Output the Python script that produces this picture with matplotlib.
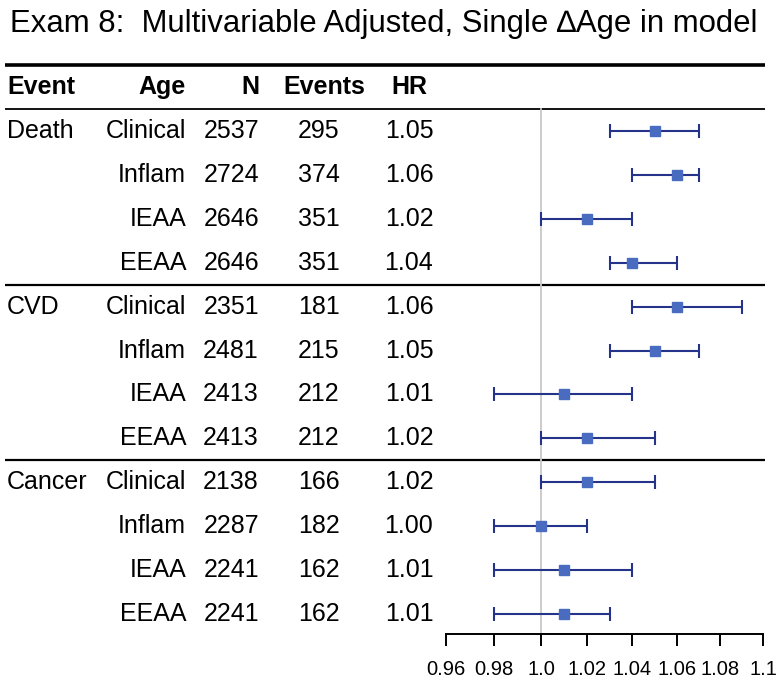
import matplotlib
matplotlib.use("Agg")
import matplotlib.pyplot as plt
from matplotlib.ticker import FixedLocator, FixedFormatter, NullLocator

plt.rcParams['font.family'] = ['Liberation Sans', 'DejaVu Sans']

# ---- data ----
events = ["Death", "", "", "", "CVD", "", "", "", "Cancer", "", "", ""]
ages = ["Clinical", "Inflam", "IEAA", "EEAA"] * 3
n_vals = [2537, 2724, 2646, 2646, 2351, 2481, 2413, 2413, 2138, 2287, 2241, 2241]
n_events = [295, 374, 351, 351, 181, 215, 212, 212, 166, 182, 162, 162]
hr = [1.05, 1.06, 1.02, 1.04, 1.06, 1.05, 1.01, 1.02, 1.02, 1.00, 1.01, 1.01]
lo = [1.03, 1.04, 1.00, 1.03, 1.04, 1.03, 0.98, 1.00, 1.00, 0.98, 0.98, 0.98]
hi = [1.07, 1.07, 1.04, 1.06, 1.09, 1.07, 1.04, 1.05, 1.05, 1.02, 1.04, 1.03]
headers = ["Event", "Age", "N", "Events", "HR"]
xticks = [0.96, 0.98, 1.0, 1.02, 1.04, 1.06, 1.08, 1.10]
xticklabels = ["0.96", "0.98", "1.0", "1.02", "1.04", "1.06", "1.08", "1.1"]
title = "Exam 8:  Multivariable Adjusted, Single \u2206Age in model"

W, H = 776, 687
fig = plt.figure(figsize=(W / 100, H / 100), dpi=100)

# row r sits at pixel 131 + 43.9*r from top
y_top = -131 / 43.9
y_bot = (H - 131) / 43.9

bg = fig.add_axes([0, 0, 1, 1])
bg.set_xlim(0, W)
bg.set_ylim(y_bot, y_top)
bg.axis("off")

x0, x1 = 445.7, 763.3
ax = fig.add_axes([x0 / W, 0, (x1 - x0) / W, 1])
ax.set_ylim(y_bot, y_top)
ax.set_xscale("log")
ax.set_xlim(0.96, 1.10)
ax.patch.set_alpha(0)

nrows = len(hr)
rows = list(range(nrows))

# table lines
bg.plot([5, 765], [-1.5, -1.5], color="black", lw=2.6, solid_capstyle="butt")
bg.plot([5, 765], [-0.5, -0.5], color="black", lw=1.3, solid_capstyle="butt")
for r in [3.5, 7.5]:
    bg.plot([5, 765], [r, r], color="black", lw=1.6, solid_capstyle="butt")

fs = 18
hdr_y = -1.0
bg.text(7, hdr_y, headers[0], ha="left", va="center", fontsize=fs, fontweight="bold")
bg.text(186, hdr_y, headers[1], ha="right", va="center", fontsize=fs, fontweight="bold")
bg.text(259, hdr_y, headers[2], ha="right", va="center", fontsize=fs, fontweight="bold")
bg.text(324, hdr_y, headers[3], ha="center", va="center", fontsize=fs, fontweight="bold")
bg.text(409, hdr_y, headers[4], ha="center", va="center", fontsize=fs, fontweight="bold")

for r in rows:
    if events[r]:
        bg.text(7, r, events[r], ha="left", va="center", fontsize=fs)
    bg.text(186, r, ages[r], ha="right", va="center", fontsize=fs)
    bg.text(259, r, str(n_vals[r]), ha="right", va="center", fontsize=fs)
    bg.text(319, r, str(n_events[r]), ha="center", va="center", fontsize=fs)
    bg.text(409, r, f"{hr[r]:.2f}", ha="center", va="center", fontsize=fs)

axis_row = 11.46

# reference line
ax.plot([1.0, 1.0], [-0.5, axis_row], color="#c8c8c8", lw=1.3, zorder=1)

# forest
xerr = [[h - l for h, l in zip(hr, lo)], [u - h for h, u in zip(hr, hi)]]
ax.errorbar(hr, rows, xerr=xerr, fmt="none", ecolor="#26338a", elinewidth=1.5,
            capsize=5, capthick=1.5, zorder=2)
ax.plot(hr, rows, linestyle="none", marker="s", markersize=7.5,
        color="#4a6cc0", zorder=3)

# axis
for s in ["left", "right", "top"]:
    ax.spines[s].set_visible(False)
ax.spines["bottom"].set_position(("data", axis_row))
ax.spines["bottom"].set_linewidth(1.4)
ax.set_yticks([])
ax.xaxis.set_major_locator(FixedLocator(xticks))
ax.xaxis.set_major_formatter(FixedFormatter(xticklabels))
ax.xaxis.set_minor_locator(NullLocator())
ax.tick_params(axis="x", which="major", direction="out", length=8.6, width=1.4,
               pad=10, labelsize=14.5)

fig.text(384 / W, 1 - 32 / H, title, ha="center", va="baseline", fontsize=22.4)

fig.savefig("out.png", dpi=100)
